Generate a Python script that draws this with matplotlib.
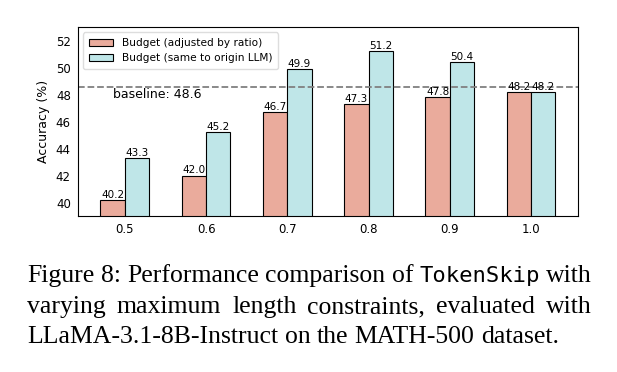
import matplotlib
matplotlib.use("Agg")
import matplotlib.pyplot as plt
import numpy as np

ratios = ["0.5", "0.6", "0.7", "0.8", "0.9", "1.0"]
adjusted = [40.2, 42.0, 46.7, 47.3, 47.8, 48.2]
same_llm = [43.3, 45.2, 49.9, 51.2, 50.4, 48.2]
baseline = 48.6
yticks = [40, 42, 44, 46, 48, 50, 52]

caption_lines = [
    [("Figure", "serif"), ("8:", "serif"), ("Performance", "serif"), ("comparison", "serif"),
     ("of", "serif"), ("TokenSkip", "mono"), ("with", "serif")],
    [("varying", "serif"), ("maximum", "serif"), ("length", "serif"), ("constraints,", "serif"),
     ("evaluated", "serif"), ("with", "serif")],
    [("LLaMA-3.1-8B-Instruct", "serif"), ("on", "serif"), ("the", "serif"),
     ("MATH-500", "serif"), ("dataset.", "serif")],
]

fig = plt.figure(figsize=(6.17, 3.72), dpi=100)
ax = fig.add_axes([0.126, 0.419, 0.811, 0.508])

x = np.arange(len(ratios))
w = 0.3
b1 = ax.bar(x - w / 2, adjusted, w, color="#eaab9c", edgecolor="black", linewidth=0.8,
            label="Budget (adjusted by ratio)")
b2 = ax.bar(x + w / 2, same_llm, w, color="#bfe6e8", edgecolor="black", linewidth=0.8,
            label="Budget (same to origin LLM)")
for bars in (b1, b2):
    for r in bars:
        ax.text(r.get_x() + r.get_width() / 2, r.get_height() + 0.03, f"{r.get_height():.1f}",
                ha="center", va="bottom", fontsize=7.5)

ax.axhline(baseline, color="gray", linestyle="--", linewidth=1.3)
ax.text(-0.15, baseline - 0.6, f"baseline: {baseline}", fontsize=9, va="center")

ax.set_ylim(39, 53)
ax.set_yticks(yticks)
ax.set_xticks(x)
ax.set_xticklabels(ratios)
ax.tick_params(length=0, labelsize=8.5, pad=5)
ax.set_ylabel("Accuracy (%)", fontsize=9, labelpad=4)
ax.legend(loc="upper left", fontsize=7.6, framealpha=1, edgecolor="#dddddd",
          handlelength=2.3, borderpad=0.55, labelspacing=0.45)

# caption, justified like the paper
fig.canvas.draw()
renderer = fig.canvas.get_renderer()
left, right = 27, 592
H = 372
baselines = [282, 313, 343]
for i, words in enumerate(caption_lines):
    texts = []
    for word, kind in words:
        if kind == "mono":
            t = fig.text(0, 0, word, family="DejaVu Sans Mono", fontsize=16, va="baseline")
        else:
            t = fig.text(0, 0, word, family="Liberation Serif", fontsize=18.5, va="baseline")
        texts.append(t)
    widths = [t.get_window_extent(renderer).width for t in texts]
    if i < len(caption_lines) - 1:
        gap = (right - left - sum(widths)) / (len(texts) - 1)
    else:
        gap = 6.4
    pos = left
    for t, wd in zip(texts, widths):
        t.set_position((pos / 617, 1 - baselines[i] / H))
        pos += wd + gap

fig.savefig("out.png", dpi=100)
